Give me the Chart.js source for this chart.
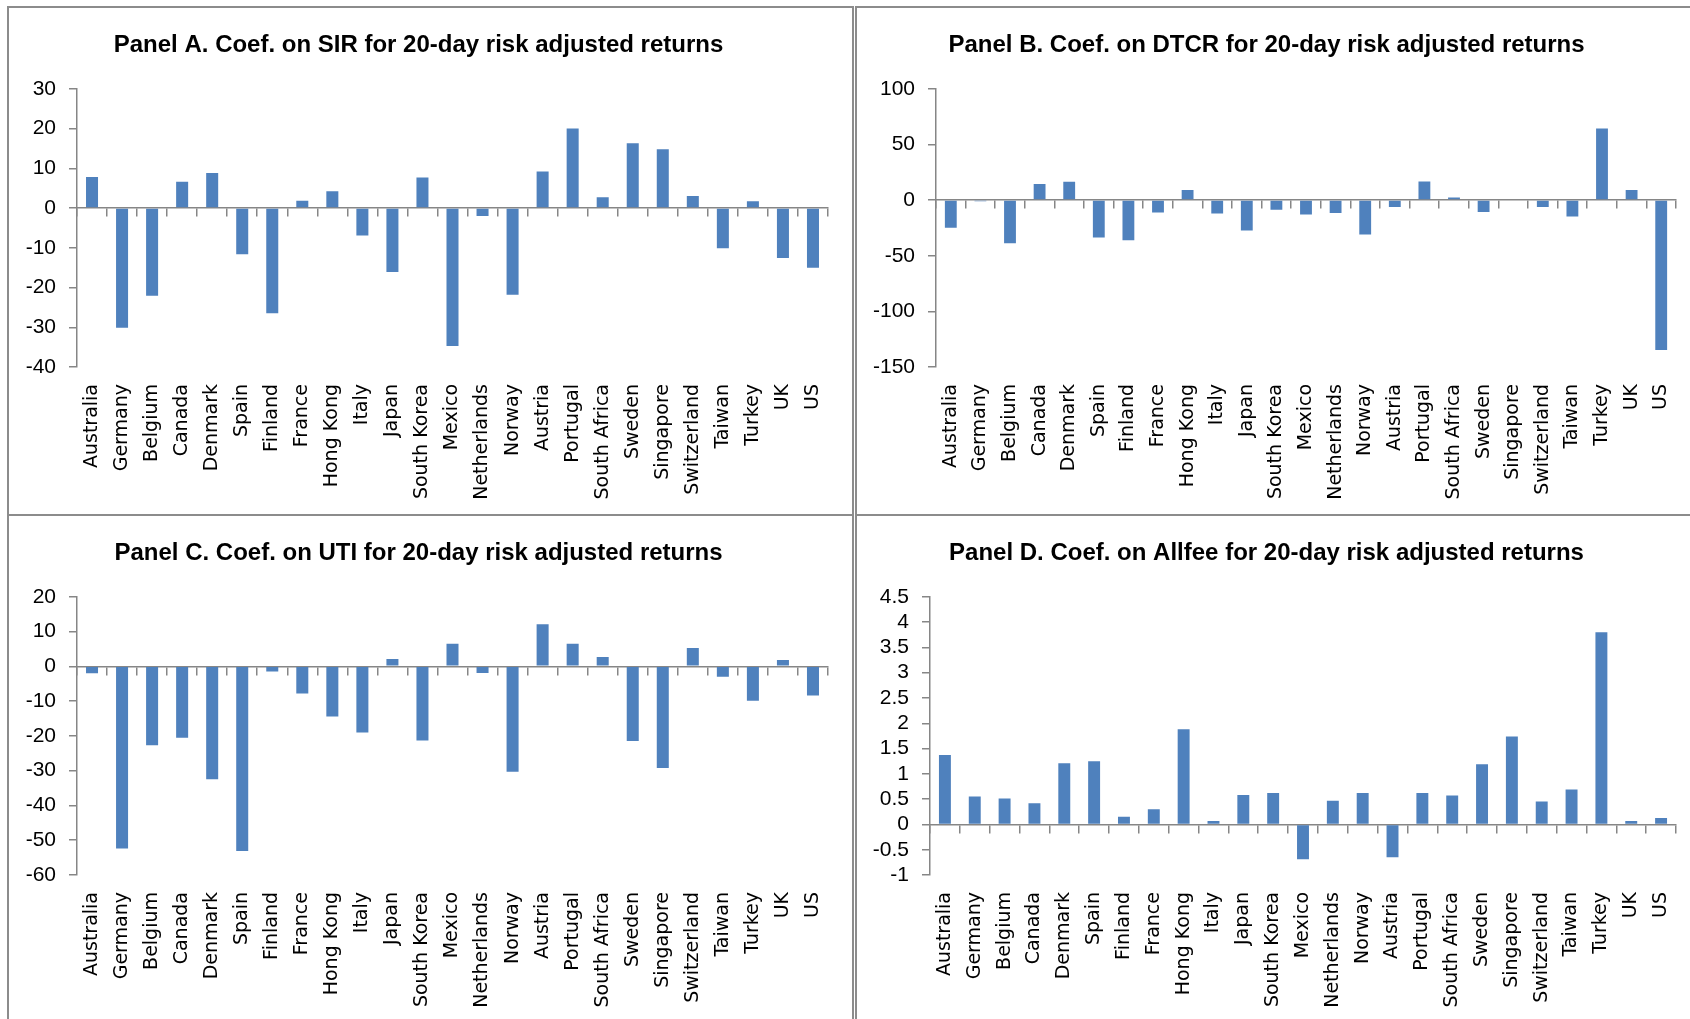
<!DOCTYPE html>
<html>
<head>
<meta charset="utf-8">
<script src="https://cdn.jsdelivr.net/npm/chart.js@4.4.1/dist/chart.umd.min.js"></script>
<style>
  html, body { margin: 0; padding: 0; background: #ffffff; }
  body { width: 1690px; height: 1019px; overflow: hidden; position: relative; }
  .panel { position: absolute; width: 847px; height: 510px; box-sizing: border-box; border: 2px solid #8c8c8c; background: #fff; }
  .panel canvas { display: block; }
</style>
</head>
<body>
<div class="panel" style="left:7px; top:6px;"><canvas id="cA" width="843" height="506"></canvas></div>
<div class="panel" style="left:855px; top:6px;"><canvas id="cB" width="843" height="506"></canvas></div>
<div class="panel" style="left:7px; top:514px;"><canvas id="cC" width="843" height="506"></canvas></div>
<div class="panel" style="left:855px; top:514px;"><canvas id="cD" width="843" height="506"></canvas></div>
<script>
const categories = ['Australia','Germany','Belgium','Canada','Denmark','Spain','Finland','France','Hong Kong','Italy','Japan','South Korea','Mexico','Netherlands','Norway','Austria','Portugal','South Africa','Sweden','Singapore','Switzerland','Taiwan','Turkey','UK','US'];

const sirCoef    = [7.8, -30.1, -22.1, 6.6, 8.8, -11.6, -26.5, 1.8, 4.2, -6.9, -16.1, 7.7, -34.7, -2.0, -21.8, 9.2, 20.0, 2.7, 16.3, 14.8, 3.0, -10.1, 1.7, -12.6, -15.0];
const dtcrCoef   = [-24.9, -1.0, -38.7, 14.4, 16.5, -33.6, -36.0, -11.1, 9.0, -12.0, -27.3, -8.7, -12.9, -11.7, -30.9, -6.3, 16.8, 2.4, -10.8, 0.0, -6.3, -14.7, 64.3, 9.0, -134.8];
const utiCoef    = [-2.0, -52.4, -22.7, -20.5, -32.5, -53.1, -1.5, -7.8, -14.4, -19.0, 2.1, -21.3, 6.5, -1.9, -30.3, 12.1, 6.5, 2.7, -21.5, -29.2, 5.3, -3.0, -9.9, 1.8, -8.4];
const allfeeCoef = [1.37, 0.55, 0.51, 0.42, 1.21, 1.25, 0.15, 0.30, 1.88, 0.07, 0.58, 0.62, -0.69, 0.47, 0.62, -0.65, 0.62, 0.57, 1.19, 1.74, 0.455, 0.69, 3.80, 0.07, 0.125];

const titles = [
  'Panel A. Coef. on SIR for 20-day risk adjusted returns',
  'Panel B. Coef. on DTCR for 20-day risk adjusted returns',
  'Panel C. Coef. on UTI for 20-day risk adjusted returns',
  'Panel D. Coef. on Allfee for 20-day risk adjusted returns'
];
const yRanges = [
  { min: -40, max: 30, step: 10 },
  { min: -150, max: 100, step: 50 },
  { min: -60, max: 20, step: 10 },
  { min: -1, max: 4.5, step: 0.5 }
];

const AXIS = '#868686';
const BAR = '#4F81BD';

function makeChart(id, title, values, range, yWidth) {
  new Chart(document.getElementById(id), {
    type: 'bar',
    data: {
      labels: categories,
      datasets: [{ data: values, backgroundColor: BAR, borderWidth: 0, barPercentage: 0.4, categoryPercentage: 1.0 }]
    },
    options: {
      responsive: false,
      animation: false,
      devicePixelRatio: 1,
      layout: { padding: { left: 0, right: 24, top: 0, bottom: 0 } },
      plugins: {
        legend: { display: false },
        tooltip: { enabled: false },
        title: {
          display: true,
          text: title,
          color: '#000',
          font: { family: "'Liberation Sans', Arial, sans-serif", size: 24, weight: 'bold', lineHeight: 1.2 },
          padding: { top: 23, bottom: 29 }
        }
      },
      scales: {
        x: {
          type: 'category',
          position: 'bottom',
          grid: { display: false },
          border: { display: false },
          ticks: {
            autoSkip: false, maxRotation: 90, minRotation: 90, padding: 9,
            color: '#000', font: { family: "'DejaVu Sans', sans-serif", size: 19 }
          },
          afterFit: (s) => { s.height = 147; }
        },
        x2: {
          type: 'category',
          position: { y: 0 },
          offset: true,
          grid: { display: true, drawOnChartArea: false, drawTicks: true, tickLength: 8, color: AXIS, lineWidth: 1.5, offset: true },
          border: { display: true, color: AXIS, width: 1.5 },
          ticks: { display: false }
        },
        y: {
          min: range.min, max: range.max,
          grid: { display: true, drawOnChartArea: false, drawTicks: true, tickLength: 8, color: AXIS, lineWidth: 1.5 },
          border: { display: true, color: AXIS, width: 1.5 },
          ticks: {
            stepSize: range.step, maxTicksLimit: 30, autoSkip: false, padding: 13, color: '#000',
            font: { family: "'Liberation Sans', Arial, sans-serif", size: 21 },
            callback: (v) => String(Number(Number(v).toFixed(2)))
          },
          afterFit: (s) => { s.width = yWidth; }
        }
      }
    }
  });
}

makeChart('cA', titles[0], sirCoef, yRanges[0], 68);
makeChart('cB', titles[1], dtcrCoef, yRanges[1], 79);
makeChart('cC', titles[2], utiCoef, yRanges[2], 68);
makeChart('cD', titles[3], allfeeCoef, yRanges[3], 73);
</script>
</body>
</html>
